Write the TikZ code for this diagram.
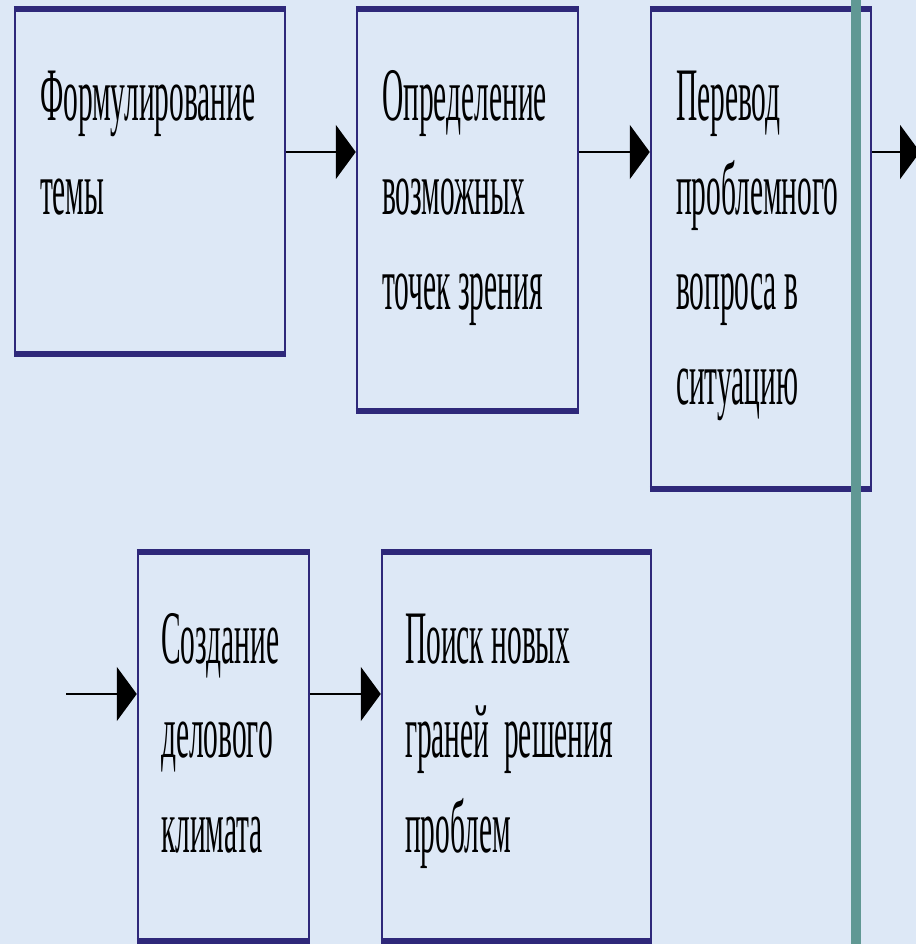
\documentclass[tikz,border=0pt]{standalone}
\usepackage{fontspec}
\setmainfont[FakeStretch=0.39]{Liberation Serif}
\usetikzlibrary{arrows.meta}
\definecolor{bgblue}{RGB}{221,232,246}
\definecolor{boxnavy}{RGB}{46,40,122}
\definecolor{railteal}{RGB}{96,152,148}

\tikzset{
    block/.style={draw=boxnavy, line width=0.7pt, inner xsep=0.25cm, inner ysep=0pt,
        align=flush left, font=\fontsize{21.5}{27}\selectfont, text height=1.10cm},
    conn/.style={line width=0.7pt, -{Triangle[length=0.2cm,width=0.54cm]}},
    rim/.style={draw=boxnavy, line width=1.8pt}
}

\begin{document}
\begin{tikzpicture}
        \useasboundingbox (0,0) rectangle (9.16,-9.44);
        \clip (0,0) rectangle (9.16,-9.44);
        \fill[bgblue] (0,0) rectangle (9.16,-9.44);

        \node[block, text width=2.20cm, text depth=2.33cm] (form) at (1.50,-1.815) {Формулирование\\темы};
        \node[block, text width=1.71cm, text depth=2.90cm] (opred) at (4.675,-2.10) {Определение\\возможных\\точек~зрения};
        \node[block, text width=1.70cm, text depth=3.68cm] (perev) at (7.61,-2.49) {Перевод\\проблемного\\вопроса~в\\ситуацию};
        \node[block, text width=1.25cm, text depth=2.77cm, inner xsep=0.23cm] (sozd) at (2.235,-7.465) {Создание\\делового\\климата};
        \node[block, text width=2.23cm, text depth=2.77cm, inner xsep=0.23cm] (poisk) at (5.165,-7.465) {Поиск новых\\граней~~решения\\проблем};

        \foreach \b in {form,opred,perev,sozd,poisk}
            \draw[rim] (\b.north west) -- (\b.north east) (\b.south west) -- (\b.south east);

        \coordinate (row1) at (0,-1.52);
        \coordinate (row2) at (0,-6.94);
        \coordinate (in) at (0.66,-6.94);
        \coordinate (out) at (9.20,-1.52);

        \draw[conn] (form.east |- row1) -- (opred.west |- row1);
        \draw[conn] (opred.east |- row1) -- (perev.west |- row1);
        \draw[conn] (perev.east |- row1) -- (out);
        \draw[conn] (in) -- (sozd.west |- row2);
        \draw[conn] (sozd.east |- row2) -- (poisk.west |- row2);

        \fill[railteal] (8.51,0) rectangle (8.61,-9.44);
    \end{tikzpicture}
\end{document}
